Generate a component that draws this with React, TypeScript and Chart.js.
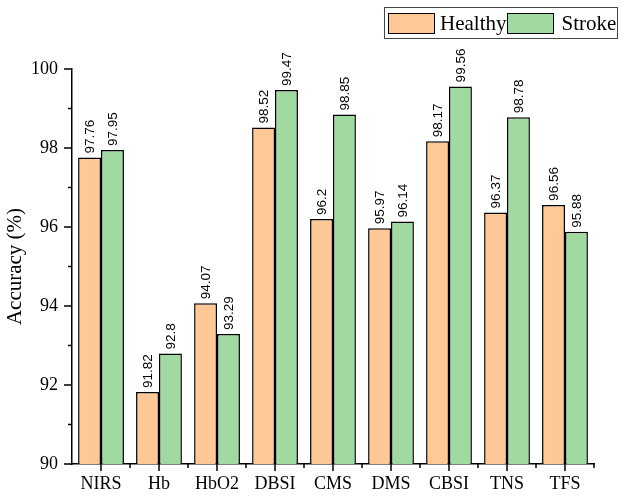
import { useEffect, useRef } from 'react'
import { Chart, registerables } from 'chart.js'

Chart.register(...registerables)

const CATEGORIES = ['NIRS', 'Hb', 'HbO2', 'DBSI', 'CMS', 'DMS', 'CBSI', 'TNS', 'TFS']
const HEALTHY = [97.76, 91.82, 94.07, 98.52, 96.2, 95.97, 98.17, 96.37, 96.56]
const STROKE = [97.95, 92.8, 93.29, 99.47, 98.85, 96.14, 99.56, 98.78, 95.88]

const COLORS = {
  healthy: '#FFC896',
  stroke: '#A0DAA0',
}

const SERIF = '"Liberation Serif", "Times New Roman", serif'
const SANS = '"Liberation Sans", Arial, sans-serif'

// minor + major tick marks, outward, like Origin
const tickMarks = {
  id: 'tickMarks',
  afterDraw(chart: Chart) {
    const { ctx } = chart
    const x = chart.scales.x
    const y = chart.scales.y
    ctx.save()
    ctx.strokeStyle = '#000'
    ctx.lineWidth = 1.5
    ctx.beginPath()
    for (let v = 90; v <= 100; v++) {
      const py = y.getPixelForValue(v)
      const len = v % 2 === 0 ? 8 : 4
      ctx.moveTo(x.left, py)
      ctx.lineTo(x.left - len, py)
    }
    const step = (x.right - x.left) / CATEGORIES.length
    CATEGORIES.forEach((_, i) => {
      const px = x.getPixelForValue(i)
      ctx.moveTo(px, y.bottom)
      ctx.lineTo(px, y.bottom + 7)
      const bx = px + step / 2
      ctx.moveTo(bx, y.bottom)
      ctx.lineTo(bx, y.bottom + 4)
    })
    ctx.stroke()
    ctx.restore()
  },
}

const valueLabels = {
  id: 'valueLabels',
  afterDatasetsDraw(chart: Chart) {
    const { ctx } = chart
    ctx.save()
    ctx.fillStyle = '#000'
    ctx.font = `13.5px ${SANS}`
    ctx.textAlign = 'left'
    ctx.textBaseline = 'middle'
    chart.data.datasets.forEach((ds, di) => {
      const meta = chart.getDatasetMeta(di)
      meta.data.forEach((bar: any, i) => {
        ctx.save()
        ctx.translate(bar.x + 1, bar.y - 4)
        ctx.rotate(-Math.PI / 2)
        ctx.fillText(String(ds.data[i]), 0, 0)
        ctx.restore()
      })
    })
    ctx.restore()
  },
}

const LEGEND = [
  { key: 'healthy', color: COLORS.healthy, label: 'Healthy' },
  { key: 'stroke', color: COLORS.stroke, label: 'Stroke' },
]

export default function App() {
  const ref = useRef<HTMLCanvasElement>(null)

  useEffect(() => {
    if (!ref.current) return

    const chart = new Chart(ref.current, {
      type: 'bar',
      data: {
        labels: CATEGORIES,
        datasets: [
          {
            label: 'Healthy',
            data: HEALTHY,
            backgroundColor: COLORS.healthy,
            borderColor: '#000',
            borderWidth: 1.5,
            categoryPercentage: 0.79,
            barPercentage: 1,
          },
          {
            label: 'Stroke',
            data: STROKE,
            backgroundColor: COLORS.stroke,
            borderColor: '#000',
            borderWidth: 1.5,
            categoryPercentage: 0.79,
            barPercentage: 1,
          },
        ],
      },
      options: {
        animation: false,
        responsive: true,
        maintainAspectRatio: false,
        layout: { padding: { top: 69, right: 30, left: 0, bottom: 0 } },
        plugins: {
          legend: { display: false },
          tooltip: { enabled: false },
        },
        scales: {
          x: {
            grid: { display: false, drawTicks: false },
            border: { display: true, color: '#000', width: 1.5 },
            ticks: {
              color: '#000',
              font: { family: SERIF, size: 18 },
              padding: 9,
              maxRotation: 0,
            },
            afterFit(scale: any) {
              scale.height = 32
            },
          },
          y: {
            min: 90,
            max: 100,
            grid: { display: false, drawTicks: false },
            border: { display: true, color: '#000', width: 1.5 },
            ticks: {
              stepSize: 1,
              autoSkip: false,
              color: '#000',
              font: { family: SERIF, size: 18 },
              padding: 14,
              callback: (v: any) => (Number(v) % 2 === 0 ? String(v) : ''),
            },
            title: {
              display: true,
              text: 'Accuracy (%)',
              color: '#000',
              font: { family: SERIF, size: 21 },
              padding: { top: 3, bottom: 0 },
            },
            afterFit(scale: any) {
              scale.width = 72
            },
          },
        },
      },
      plugins: [tickMarks, valueLabels],
    })

    return () => chart.destroy()
  }, [])

  return (
    <div style={{ position: 'absolute', left: 0, top: 0, width: 624, height: 496, background: '#fff' }}>
      <canvas ref={ref} role="img" aria-label="Accuracy by feature, healthy vs stroke" />
      <div
        style={{
          position: 'absolute',
          left: 384,
          top: 7,
          width: 234,
          height: 32,
          boxSizing: 'border-box',
          border: '1px solid #444',
          display: 'flex',
          alignItems: 'center',
          fontFamily: SERIF,
          fontSize: 21,
          color: '#000',
          whiteSpace: 'nowrap',
        }}
      >
        {LEGEND.map((l) => (
          <span
            key={l.key}
            style={{ display: 'flex', alignItems: 'center', marginLeft: l.key === 'healthy' ? 3 : 1 }}
          >
            <span
              style={{
                width: 47,
                height: 21,
                boxSizing: 'border-box',
                background: l.color,
                border: '1.5px solid #000',
                marginRight: l.key === 'healthy' ? 5 : 7,
              }}
            />
            {l.label}
          </span>
        ))}
      </div>
    </div>
  )
}
